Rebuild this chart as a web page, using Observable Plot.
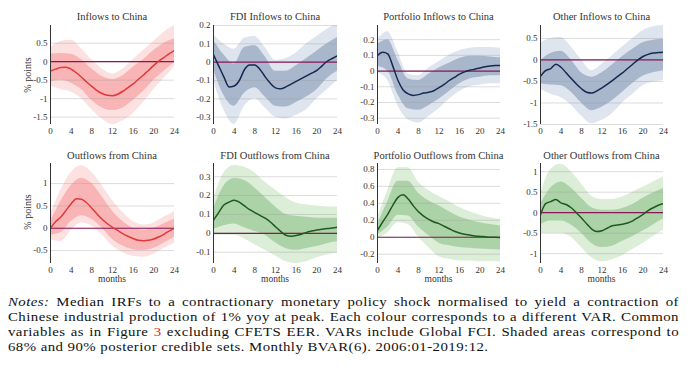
<!DOCTYPE html>
<html><head><meta charset="utf-8">
<script src="https://cdn.jsdelivr.net/npm/d3@7"></script>
<script src="https://cdn.jsdelivr.net/npm/@observablehq/plot@0.6"></script>
<style>
body{margin:0;background:#fff;}
#root{position:relative;width:690px;height:370px;overflow:hidden;font-family:"Liberation Serif",serif;color:#222;}
.ttl{position:absolute;font-family:"Liberation Serif",serif;font-size:10.5px;line-height:12px;text-align:center;white-space:nowrap;width:160px;color:#333;}
.ylab{position:absolute;font-family:"Liberation Serif",serif;font-size:10px;line-height:12px;white-space:nowrap;transform:rotate(-90deg);transform-origin:center;width:60px;text-align:center;color:#333;}
.xlab{position:absolute;font-family:"Liberation Serif",serif;font-size:9.5px;line-height:11px;text-align:center;width:80px;color:#333;}
.note{position:absolute;left:8px;width:610px;font-family:"Liberation Serif",serif;font-size:13.5px;letter-spacing:0.4px;line-height:15px;height:15px;text-align:justify;text-align-last:justify;color:#111;transform:scaleX(1.1);transform-origin:0 0;}
.note.last{text-align-last:left;white-space:nowrap;}
svg.p{position:absolute;overflow:visible;}
svg.p text{font-family:"Liberation Serif",serif !important;}
</style></head><body><div id="root"></div>
<script>
// ---------- data ----------
const monthsMed = [0,1,2,3,4,5,6,7,8,9,10,11,12,13,14,15,16,17,18,19,20,21,22,23,24];
const monthsBand = [0,2,4,6,8,10,12,14,16,18,20,22,24];
const xTicks = [0,4,8,12,16,20,24];

// Inflows to China
const inflowsMed = [-0.25,-0.2,-0.16,-0.15,-0.2,-0.3,-0.42,-0.55,-0.67,-0.78,-0.86,-0.91,-0.92,-0.88,-0.8,-0.7,-0.6,-0.48,-0.36,-0.23,-0.1,0.02,0.12,0.22,0.3];
const inflowsOuterHi = [0.38,0.55,0.58,0.35,0.05,-0.2,-0.33,-0.2,0.05,0.3,0.55,0.8,0.98];
const inflowsInnerHi = [0.2,0.22,0.2,0.05,-0.2,-0.4,-0.48,-0.38,-0.15,0.05,0.3,0.5,0.62];
const inflowsInnerLo = [-0.55,-0.5,-0.58,-0.75,-1.05,-1.25,-1.32,-1.25,-1.05,-0.8,-0.5,-0.25,-0.02];
const inflowsOuterLo = [-0.65,-0.75,-0.82,-1.0,-1.3,-1.55,-1.7,-1.6,-1.4,-1.1,-0.75,-0.45,-0.15];

// FDI Inflows to China
const fdiInMed = [0.04,-0.02,-0.08,-0.135,-0.13,-0.1,-0.04,-0.015,-0.015,-0.04,-0.08,-0.115,-0.14,-0.145,-0.135,-0.12,-0.105,-0.09,-0.075,-0.06,-0.045,-0.02,0.005,0.02,0.035];
const fdiInOuterHi = [0.15,0.1,0.07,0.13,0.14,0.08,0.01,0.02,0.05,0.1,0.14,0.18,0.21];
const fdiInInnerHi = [0.12,0.04,-0.01,0.08,0.09,0.03,-0.05,-0.05,-0.02,0.02,0.06,0.1,0.135];
const fdiInInnerLo = [-0.04,-0.18,-0.24,-0.17,-0.14,-0.19,-0.24,-0.245,-0.22,-0.19,-0.15,-0.09,-0.05];
const fdiInOuterLo = [-0.1,-0.26,-0.34,-0.24,-0.2,-0.25,-0.3,-0.31,-0.29,-0.26,-0.2,-0.15,-0.1];

// Portfolio Inflows to China
const portInMed = [0.1,0.12,0.11,0.03,-0.06,-0.12,-0.145,-0.155,-0.15,-0.14,-0.135,-0.125,-0.105,-0.085,-0.06,-0.04,-0.02,-0.005,0.005,0.012,0.02,0.027,0.033,0.035,0.035];
const portInOuterHi = [0.2,0.25,0.12,-0.02,-0.03,0.02,0.06,0.1,0.13,0.145,0.15,0.15,0.145];
const portInInnerHi = [0.17,0.2,0.07,-0.05,-0.06,-0.02,0.02,0.05,0.08,0.095,0.095,0.09,0.085];
const portInInnerLo = [0.03,0.0,-0.15,-0.24,-0.25,-0.22,-0.18,-0.13,-0.08,-0.05,-0.04,-0.03,-0.03];
const portInOuterLo = [-0.01,-0.06,-0.22,-0.31,-0.33,-0.29,-0.24,-0.18,-0.13,-0.1,-0.09,-0.08,-0.08];

// Other Inflows to China
const othInMed = [-0.38,-0.25,-0.2,-0.1,-0.17,-0.3,-0.43,-0.56,-0.67,-0.75,-0.77,-0.72,-0.65,-0.57,-0.48,-0.39,-0.3,-0.2,-0.1,0.0,0.08,0.13,0.16,0.17,0.18];
const othInOuterHi = [0.4,0.5,0.52,0.3,0.0,-0.25,-0.1,0.1,0.3,0.5,0.68,0.77,0.8];
const othInInnerHi = [-0.02,0.15,0.2,0.0,-0.3,-0.4,-0.3,-0.12,0.08,0.25,0.4,0.46,0.48];
const othInInnerLo = [-0.56,-0.58,-0.6,-0.75,-1.0,-1.18,-1.1,-0.95,-0.75,-0.55,-0.38,-0.3,-0.25];
const othInOuterLo = [-0.68,-0.8,-0.88,-1.05,-1.3,-1.48,-1.4,-1.25,-1.0,-0.8,-0.6,-0.52,-0.48];

// Outflows from China
const outflowsMed = [0.0,0.15,0.25,0.4,0.55,0.66,0.65,0.57,0.45,0.32,0.2,0.1,0.02,-0.05,-0.12,-0.18,-0.23,-0.27,-0.28,-0.27,-0.24,-0.19,-0.13,-0.06,0.0];
const outflowsOuterHi = [0.3,0.85,1.25,1.4,1.25,0.95,0.62,0.35,0.15,0.07,0.12,0.25,0.37];
const outflowsInnerHi = [0.15,0.6,0.95,1.12,1.0,0.7,0.38,0.15,0.0,-0.04,0.0,0.1,0.2];
const outflowsInnerLo = [-0.15,-0.1,0.15,0.28,0.2,0.0,-0.25,-0.4,-0.48,-0.5,-0.45,-0.33,-0.2];
const outflowsOuterLo = [-0.25,-0.3,-0.05,0.12,0.05,-0.15,-0.4,-0.55,-0.63,-0.65,-0.58,-0.45,-0.34];

// FDI Outflows from China
const fdiOutMed = [0.07,0.11,0.15,0.165,0.175,0.165,0.145,0.125,0.11,0.095,0.08,0.06,0.035,0.01,-0.01,-0.015,-0.012,-0.005,0.005,0.012,0.018,0.022,0.025,0.028,0.032];
const fdiOutOuterHi = [0.18,0.32,0.36,0.35,0.32,0.27,0.23,0.19,0.16,0.15,0.145,0.14,0.14];
const fdiOutInnerHi = [0.13,0.25,0.29,0.28,0.24,0.19,0.14,0.1,0.09,0.085,0.08,0.08,0.08];
const fdiOutInnerLo = [0.02,0.04,0.05,0.03,0.01,-0.01,-0.05,-0.08,-0.09,-0.08,-0.07,-0.055,-0.045];
const fdiOutOuterLo = [-0.01,-0.01,-0.01,-0.03,-0.06,-0.09,-0.12,-0.15,-0.16,-0.15,-0.13,-0.115,-0.105];

// Portfolio Outflows from China
const portOutMed = [0.08,0.18,0.27,0.38,0.47,0.5,0.45,0.37,0.3,0.25,0.21,0.18,0.16,0.13,0.1,0.07,0.05,0.035,0.025,0.015,0.01,0.005,0.0,0.0,-0.005];
const portOutOuterHi = [0.22,0.55,0.82,0.82,0.65,0.55,0.48,0.42,0.35,0.3,0.26,0.23,0.21];
const portOutInnerHi = [0.15,0.42,0.66,0.66,0.52,0.43,0.37,0.3,0.24,0.2,0.17,0.15,0.13];
const portOutInnerLo = [0.03,0.12,0.26,0.25,0.12,0.02,-0.07,-0.1,-0.12,-0.13,-0.14,-0.145,-0.15];
const portOutOuterLo = [-0.02,0.05,0.17,0.15,0.0,-0.12,-0.23,-0.26,-0.28,-0.28,-0.29,-0.29,-0.29];

// Other Outflows from China
const othOutMed = [-0.05,0.22,0.27,0.32,0.24,0.2,0.12,0.0,-0.13,-0.27,-0.4,-0.46,-0.44,-0.38,-0.32,-0.3,-0.28,-0.25,-0.2,-0.12,-0.04,0.05,0.12,0.18,0.22];
const othOutOuterHi = [0.45,1.05,1.18,1.0,0.7,0.4,0.32,0.32,0.38,0.5,0.62,0.75,0.87];
const othOutInnerHi = [0.2,0.6,0.75,0.6,0.35,0.12,0.06,0.06,0.1,0.2,0.35,0.48,0.59];
const othOutInnerLo = [-0.3,-0.2,-0.2,-0.3,-0.5,-0.75,-0.85,-0.82,-0.7,-0.58,-0.45,-0.3,-0.15];
const othOutOuterLo = [-0.5,-0.5,-0.5,-0.6,-0.85,-1.1,-1.2,-1.15,-1.05,-0.9,-0.75,-0.58,-0.43];

const titles = ["Inflows to China","FDI Inflows to China","Portfolio Inflows to China","Other Inflows to China",
  "Outflows from China","FDI Outflows from China","Portfolio Outflows from China","Other Outflows from China"];
const yDomains = [[-1.7,0.98],[-0.34,0.2],[-0.34,0.29],[-1.5,0.8],[-0.79,1.45],[-0.16,0.37],[-0.31,0.87],[-1.24,1.2]];
const yTicks = [[-1.5,-1,-0.5,0,0.5],[-0.3,-0.2,-0.1,0,0.1,0.2],[-0.3,-0.2,-0.1,0,0.1,0.2],[-1.5,-1,-0.5,0,0.5],
  [-0.5,0,0.5,1],[-0.1,0,0.1,0.2,0.3],[-0.2,0,0.2,0.4,0.6,0.8],[-1,-0.5,0,0.5,1]];

const palettes = {
  red:   {line:"#e2383b", inner:"#f9b5b5", outer:"#fde0e0"},
  blue:  {line:"#16284f", inner:"#a9b7cd", outer:"#dfe5ee"},
  green: {line:"#1d5a1f", inner:"#acd3a8", outer:"#dcedd8"}
};
const panelColors = ["red","blue","blue","blue","red","green","green","green"];
const zeroColor = "#8a1858";

const series = [
  [inflowsMed,inflowsOuterHi,inflowsInnerHi,inflowsInnerLo,inflowsOuterLo],
  [fdiInMed,fdiInOuterHi,fdiInInnerHi,fdiInInnerLo,fdiInOuterLo],
  [portInMed,portInOuterHi,portInInnerHi,portInInnerLo,portInOuterLo],
  [othInMed,othInOuterHi,othInInnerHi,othInInnerLo,othInOuterLo],
  [outflowsMed,outflowsOuterHi,outflowsInnerHi,outflowsInnerLo,outflowsOuterLo],
  [fdiOutMed,fdiOutOuterHi,fdiOutInnerHi,fdiOutInnerLo,fdiOutOuterLo],
  [portOutMed,portOutOuterHi,portOutInnerHi,portOutInnerLo,portOutOuterLo],
  [othOutMed,othOutOuterHi,othOutInnerHi,othOutInnerLo,othOutOuterLo]
];

// ---------- layout ----------
const colLeft = [50,213,377,540];
const colW = [124,124,123,123];
const rowTop = [25,163];
const rowH = [99,100];
const ML = 36, MR = 6, MT = 4, MB = 18;
const root = document.getElementById("root");
const fmt = d => String(d);

series.forEach((s, i) => {
  const r = Math.floor(i/4), c = i % 4;
  const pal = palettes[panelColors[i]];
  const [med, oHi, iHi, iLo, oLo] = s;
  const band = monthsBand.map((m,k) => ({m, oHi:oHi[k], iHi:iHi[k], iLo:iLo[k], oLo:oLo[k]}));
  const line = monthsMed.map((m,k) => ({m, v:med[k]}));
  const W = colW[c] + ML + MR, H = rowH[r] + MT + MB;
  const svg = Plot.plot({
    width: W, height: H,
    marginLeft: ML, marginRight: MR, marginTop: MT, marginBottom: MB,
    style: {fontFamily:"'Liberation Serif', serif", fontSize:"9px", color:"#333", background:"none", overflow:"visible"},
    x: {domain:[0,24]},
    y: {domain: yDomains[i]},
    marks: [
      Plot.areaY(band, {x:"m", y1:"oLo", y2:"oHi", fill:pal.outer, curve:"monotone-x", clip:true}),
      Plot.areaY(band, {x:"m", y1:"iLo", y2:"iHi", fill:pal.inner, curve:"monotone-x", clip:true}),
      Plot.gridY(yTicks[i], {stroke:"#9a9a9a", strokeOpacity:0.35}),
      Plot.ruleY([0], {stroke:zeroColor, strokeWidth:1.2}),
      Plot.lineY(line, {x:"m", y:"v", stroke:pal.line, strokeWidth:1.5, curve:"monotone-x", clip:true}),
      Plot.ruleX([0], {stroke:"#333", strokeWidth:1}),
      Plot.axisX(xTicks, {tickSize:0, tickPadding:3, tickFormat:fmt, label:null}),
      Plot.axisY(yTicks[i], {tickSize:0, tickPadding:3, tickFormat:fmt, label:null})
    ]
  });
  svg.classList.add("p");
  svg.style.left = (colLeft[c] - ML) + "px";
  svg.style.top = (rowTop[r] - MT) + "px";
  root.appendChild(svg);

  const t = document.createElement("div");
  t.className = "ttl";
  t.textContent = titles[i];
  t.style.left = (colLeft[c] + colW[c]/2 - 80) + "px";
  t.style.top = (r === 0 ? 11 : 150) + "px";
  root.appendChild(t);

  if (c === 0) {
    const yl = document.createElement("div");
    yl.className = "ylab";
    yl.textContent = "% points";
    yl.style.left = (28 - 30) + "px";
    yl.style.top = ((r === 0 ? 75 : 212) - 6) + "px";
    root.appendChild(yl);
  }
  if (r === 1) {
    const xl = document.createElement("div");
    xl.className = "xlab";
    xl.textContent = "months";
    xl.style.left = (colLeft[c] + colW[c]/2 - 40) + "px";
    xl.style.top = "274px";
    root.appendChild(xl);
  }
});

// ---------- notes ----------
const noteLines = [
  '<i>Notes:</i> Median IRFs to a contractionary monetary policy shock normalised to yield a contraction of',
  'Chinese industrial production of 1% yoy at peak. Each colour corresponds to a different VAR. Common',
  'variables as in Figure <span style="color:#e0201f">3</span> excluding CFETS EER. VARs include Global FCI. Shaded areas correspond to',
  '68% and 90% posterior credible sets. Monthly BVAR(6). 2006:01-2019:12.'
];
const noteTops = [294, 309, 324, 339];
noteLines.forEach((h, k) => {
  const d = document.createElement("div");
  d.className = "note" + (k === noteLines.length-1 ? " last" : "");
  d.innerHTML = h;
  d.style.top = noteTops[k] + "px";
  root.appendChild(d);
});
</script></body></html>
